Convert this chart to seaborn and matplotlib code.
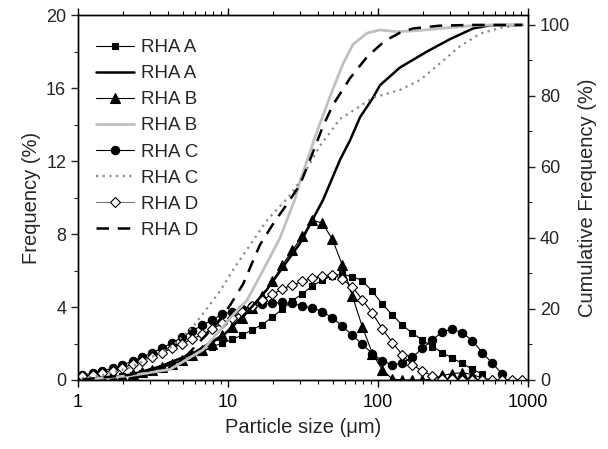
import numpy as np
import pandas as pd
import matplotlib
matplotlib.use("Agg")
import matplotlib.pyplot as plt
from matplotlib.ticker import FixedLocator, FixedFormatter, LogLocator, NullFormatter, MultipleLocator
from matplotlib.lines import Line2D
import seaborn as sns

# ---------------- data ----------------
size_bins = [1.07, 1.25, 1.45, 1.70, 1.98, 2.31, 2.69, 3.13, 3.65, 4.26,
             4.97, 5.79, 6.75, 7.87, 9.18, 10.70, 12.48, 14.55, 16.96, 19.77,
             23.05, 26.88, 31.34, 36.53, 42.59, 49.66, 57.90, 67.51, 78.71, 91.77,
             107.0, 124.8, 145.5, 169.6, 197.7, 230.5, 268.8, 313.4, 365.3, 425.9,
             496.6, 579.0, 675.1, 787.1, 917.7]

freq_A = [0.05, 0.08, 0.12, 0.17, 0.23, 0.30, 0.40, 0.52, 0.68, 0.86,
          1.05, 1.28, 1.55, 1.83, 2.02, 2.22, 2.47, 2.76, 3.04, 3.45,
          3.88, 4.35, 4.73, 5.15, 5.48, 5.70, 5.80, 5.66, 5.44, 4.85,
          4.16, 3.56, 3.01, 2.56, 2.19, 1.83, 1.50, 1.19, 0.91, 0.58,
          0.33]
freq_B = [0.05, 0.08, 0.12, 0.17, 0.24, 0.32, 0.42, 0.54, 0.70, 0.88,
          1.10, 1.35, 1.65, 2.00, 2.45, 2.90, 3.40, 3.95, 4.60, 5.40,
          6.30, 7.10, 7.90, 8.75, 8.60, 7.70, 6.30, 4.60, 2.90, 1.45,
          0.55, 0.05, 0.0, 0.0, 0.0, 0.05, 0.25, 0.35, 0.40, 0.30,
          0.10, 0.0]
freq_C = [0.27, 0.37, 0.50, 0.64, 0.82, 1.04, 1.24, 1.50, 1.75, 2.05,
          2.35, 2.70, 3.00, 3.30, 3.60, 3.75, 3.90, 4.05, 4.15, 4.20,
          4.25, 4.20, 4.05, 3.95, 3.75, 3.40, 2.95, 2.45, 1.95, 1.45,
          1.05, 0.82, 0.95, 1.24, 1.74, 2.19, 2.65, 2.78, 2.60, 2.15,
          1.50, 0.91, 0.33]
freq_D = [0.20, 0.27, 0.40, 0.52, 0.68, 0.85, 1.05, 1.25, 1.50, 1.75,
          2.00, 2.25, 2.50, 2.80, 3.10, 3.40, 3.75, 4.05, 4.38, 4.70,
          5.00, 5.20, 5.40, 5.57, 5.68, 5.78, 5.52, 5.10, 4.40, 3.65,
          2.80, 2.05, 1.37, 0.82, 0.50, 0.22, 0.05, 0.03, 0.02, 0.0,
          0.0, 0.0, 0.0, 0.0, 0.0]

cum_A_size = [1.07, 2.22, 3.52, 5.84, 9.55, 14.0, 18.2, 30.2, 43.0, 55.8,
              65.1, 75.9, 92.6, 103, 140, 212, 302, 430, 558, 917.7]
cum_A = [0.1, 1.4, 3.8, 7.5, 13, 20, 25.5, 38.5, 50.7, 62,
         67.5, 74, 79.5, 83, 88, 92.5, 96, 99, 99.9, 100]

cum_B_size = [1.07, 2.22, 4.11, 6.81, 10.8, 13.4, 18.2, 22.2, 28.0, 30.2,
              39.2, 50.1, 58.4, 68.1, 84.5, 103, 134, 182, 259, 392, 558, 917.7]
cum_B = [0.1, 1.2, 3.0, 8.5, 18.3, 22.5, 33, 40, 51, 56,
         70, 82, 89, 94.5, 97.7, 98.6, 98.1, 98.4, 99, 99.7, 100, 100]

cum_C_size = [1.07, 1.40, 2.22, 4.11, 5.84, 8.84, 10.8, 18.2, 25.9, 30.2,
              41.1, 55.8, 92.6, 140, 191, 259, 352, 479, 651, 884]
cum_C = [0.5, 1.2, 3.5, 9, 15, 25, 31, 45, 52, 56,
         66, 73.5, 79.5, 81.7, 84.5, 89.2, 94, 97.5, 99.2, 100]

cum_D_size = [1.07, 2.22, 3.52, 5.33, 8.45, 10.3, 12.6, 16.3, 20.0, 24.7,
              30.2, 35.2, 43.0, 50.1, 65.1, 84.5, 111, 140, 171, 259, 411, 917.7]
cum_D = [0.1, 1.5, 3.5, 7, 16, 21, 27, 38, 44, 49.5,
         55, 62, 71.5, 77.5, 85, 91, 95.5, 97.8, 99, 99.8, 100, 100]

labels = ["RHA A", "RHA B", "RHA C", "RHA D"]

# ---------------- style ----------------
sns.set_theme(style="ticks")
plt.rcParams['font.family'] = ['Liberation Sans', 'DejaVu Sans']
plt.rcParams['font.size'] = 13
plt.rcParams['axes.linewidth'] = 1.0

fig = plt.figure(figsize=(6.08, 4.49), dpi=100)
ax = fig.add_axes([78/608, 69/449, 450/608, 365/449])
ax2 = ax.twinx()

freq_sets = [freq_A, freq_B, freq_C, freq_D]
markers = ['s', '^', 'o', 'D']
msizes = [5, 6.5, 6, 5.5]
faces = ['black', 'black', 'black', 'white']

cum_sets = [(cum_A_size, cum_A), (cum_B_size, cum_B), (cum_C_size, cum_C), (cum_D_size, cum_D)]
cum_styles = [dict(color='black', lw=1.8, ls='-'),
              dict(color='#c0c0c0', lw=2.0, ls='-'),
              dict(color='#8c8c8c', lw=1.6, ls=(0, (1, 2))),
              dict(color='black', lw=1.8, ls=(0, (5, 3.5)))]

handles = []
for i in range(4):
    fv = freq_sets[i]
    df = pd.DataFrame({"size": size_bins[:len(fv)], "freq": fv})
    sns.lineplot(data=df, x="size", y="freq", ax=ax, color='black', lw=0.8,
                 marker=markers[i], markersize=msizes[i], markerfacecolor=faces[i],
                 markeredgecolor='black', markeredgewidth=0.8, zorder=3, legend=False)
    cs, cv = cum_sets[i]
    dfc = pd.DataFrame({"size": cs, "cum": cv})
    sns.lineplot(data=dfc, x="size", y="cum", ax=ax2, legend=False, zorder=2,
                 **cum_styles[i])
    handles.append(Line2D([], [], color='black' if i != 3 else '#777777', lw=0.8,
                          marker=markers[i], markersize=msizes[i],
                          markerfacecolor=faces[i], markeredgecolor='black',
                          markeredgewidth=0.8))
    handles.append(Line2D([], [], **cum_styles[i]))

leg_labels = []
for l in labels:
    leg_labels += [l, l]

# ---------------- axes ----------------
ax.set_xscale('log')
ax.set_xlim(1, 1000)
ax.set_ylim(0, 20)
ax2.set_ylim(0, 102.8)

ax.xaxis.set_major_locator(FixedLocator([1, 10, 100, 1000]))
ax.xaxis.set_major_formatter(FixedFormatter(["1", "10", "100", "1000"]))
ax.xaxis.set_minor_locator(LogLocator(base=10, subs=np.arange(2, 10)))
ax.xaxis.set_minor_formatter(NullFormatter())

ax.yaxis.set_major_locator(MultipleLocator(4))
ax.yaxis.set_minor_locator(MultipleLocator(2))
ax2.yaxis.set_major_locator(MultipleLocator(20))
ax2.yaxis.set_minor_locator(MultipleLocator(10))

for a in (ax, ax2):
    for s in a.spines.values():
        s.set_visible(True)
        s.set_color('black')
        s.set_linewidth(1.0)

ax.tick_params(axis='x', which='both', direction='out', top=True, bottom=True,
               colors='black', labelsize=13)
ax.tick_params(axis='x', which='major', length=5, width=1, pad=5)
ax.tick_params(axis='x', which='minor', length=3, width=0.8)
ax.tick_params(axis='y', which='major', direction='out', length=5, width=1, labelsize=13, left=True, right=False)
ax.tick_params(axis='y', which='minor', direction='out', length=3, width=0.8, left=True, right=False)
ax2.tick_params(axis='y', which='major', direction='out', length=5, width=1, labelsize=13)
ax2.tick_params(axis='y', which='minor', direction='out', length=3, width=0.8)

ax.set_xlabel("Particle size (\u03bcm)", fontsize=14.5, labelpad=5)
ax.set_ylabel("Frequency (%)", fontsize=14.5, labelpad=4)
ax2.set_ylabel("Cumulative Frequency (%)", fontsize=14.5, labelpad=6)

leg = ax2.legend(handles, leg_labels, loc='upper left', bbox_to_anchor=(0.02, 0.96),
                 frameon=False, fontsize=13.5, handlelength=2.0, labelspacing=0.48,
                 handletextpad=0.36, borderaxespad=0.2, borderpad=0.3)

fig.savefig("out.png", dpi=100)
